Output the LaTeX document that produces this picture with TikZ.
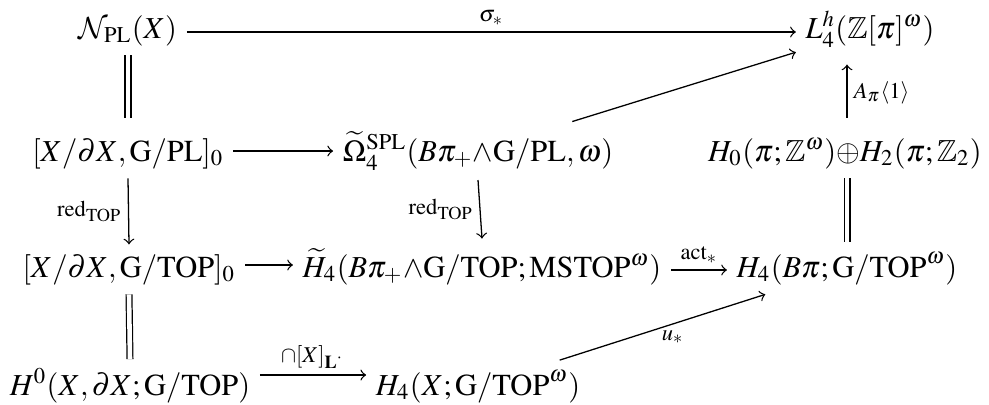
\documentclass[tikz,border=0pt]{standalone}
\usepackage{amssymb}
\usepackage{mathptmx}
\DeclareMathAlphabet{\mathcal}{OMS}{cmsy}{m}{n}
\usetikzlibrary{calc}
\begin{document}
\begin{tikzpicture}[x=0.328pt,y=-0.328pt,
  obj/.style={anchor=base,inner sep=3pt,font=\fontsize{10}{12}\selectfont},
  arr/.style={->,line width=0.42pt},
  eq/.style={double,double distance=1.5pt,line width=0.4pt},
  lab/.style={font=\fontsize{10}{12}\selectfont,inner sep=2pt}]
\useasboundingbox (0,0) rectangle (989,404);
\node[obj] (n1) at (128,38) {$\mathcal{N}_{\mathrm{PL}}(X)$};
\node[obj] (L) at (870,38) {$L^h_4(\mathbb{Z}[\pi]^{\omega})$};
\node[obj] (r2) at (128,161) {$[X/\partial X,\mathrm{G/PL}]_0$};
\node[obj] (Om) at (478,161) {$\widetilde{\Omega}^{\mathrm{SPL}}_4(B\pi_+{\wedge}\mathrm{G/PL},\omega)$};
\node[obj] (H0) at (845,161) {$H_0(\pi;\mathbb{Z}^\omega){\oplus}H_2(\pi;\mathbb{Z}_2)$};
\node[obj] (r3) at (129,277) {$[X/\partial X,\mathrm{G/TOP}]_0$};
\node[obj] (Ht) at (482,277) {$\widetilde{H}_4(B\pi_+{\wedge}\mathrm{G/TOP};\mathrm{MSTOP}^\omega)$};
\node[obj] (Hb) at (847,277) {$H_4(B\pi;\mathrm{G/TOP}^\omega)$};
\node[obj] (r4) at (130,395) {$H^0(X,\partial X;\mathrm{G/TOP})$};
\node[obj] (HX) at (478,395) {$H_4(X;\mathrm{G/TOP}^\omega)$};
% horizontal
\draw[arr] ($(n1.base east)+(0,-6)$) -- node[lab,above]{$\scriptstyle\sigma_*$} ($(L.base west)+(0,-6)$);
\draw[arr] ($(r2.base east)+(0,-10)$) -- ($(Om.base west)+(0,-10)$);
\draw[arr] ($(r3.base east)+(0,-12)$) -- ($(Ht.base west)+(0,-12)$);
\draw[arr] ($(Ht.base east)+(0,-7)$) -- node[lab,above]{$\scriptstyle\mathrm{act}_*$} ($(Hb.base west)+(0,-7)$);
\draw[arr] ($(r4.base east)+(0,-20)$) -- node[lab,above]{$\scriptstyle\cap[X]_{\mathbf{L}^\cdot}$} ($(HX.base west)+(0,-20)$);
% vertical
\draw[eq,shorten >=3.5pt] (n1.south) -- (r2.north);
\draw[arr] (r2.south) -- node[lab,left]{$\scriptstyle\mathrm{red}_{\mathrm{TOP}}$} (r3.north);
\draw[arr] (Om.south) -- node[lab,left]{$\scriptstyle\mathrm{red}_{\mathrm{TOP}}$} (Ht.north);
\draw[eq] (r3.south) -- (r4.north);
\draw[eq] (Hb.north |- H0.south) -- (Hb.north);
\draw[arr,shorten <=3.5pt,shorten >=2.5pt] (Hb.north |- H0.north) -- node[lab,right]{$\scriptstyle A_\pi\langle 1\rangle$} (Hb.north |- L.south);
% diagonal
\draw[arr] (Om) -- (L);
\draw[arr] (HX) -- node[lab,below,pos=0.55]{$\scriptstyle u_*$} (Hb);
\end{tikzpicture}
\end{document}
